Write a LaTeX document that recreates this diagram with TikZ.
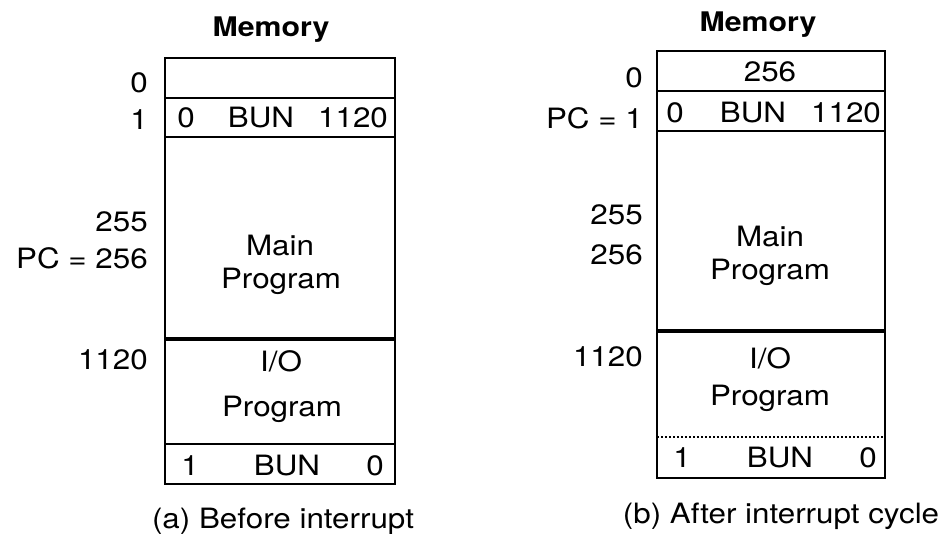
\documentclass[tikz,border=0pt]{standalone}
\usepackage{fontspec}
\setmainfont[FakeStretch=1.12]{TeX Gyre Heros}
\begin{document}
\begin{tikzpicture}[x=1pt,y=-1pt,
  txt/.style={inner sep=0pt,font=\fontsize{28}{32}\selectfont},
  lbl/.style={txt,anchor=east},
  ttl/.style={inner sep=0pt,font=\fontsize{27}{32}\selectfont\bfseries},
  box/.style={line width=2.2pt},
  thick divider/.style={line width=3.2pt},
  dotline/.style={line width=2.4pt,dash pattern=on 2pt off 2pt}]
\useasboundingbox (0,0) rectangle (940,533);
% ---------- (a) Before interrupt ----------
\node[ttl] (memA) at (271,30) {Memory};
\draw[box] (165,58) rectangle (395,484);
\draw[box] (165,98) -- (395,98);
\draw[box] (165,137) -- (395,137);
\draw[thick divider] (165,339) -- (395,339);
\draw[box] (165,444) -- (395,444);
\node[lbl] (a0) at (148,83) {0};
\node[lbl] (a1) at (148,120) {1};
\node[txt] (ac1) at (186,118) {0};
\node[txt] (ac2) at (261,118) {BUN};
\node[txt] (ac3) at (353,118) {1120};
\node[lbl] (a255) at (148,222) {255};
\node[lbl] (a256) at (148,258) {PC = 256};
\node[txt] (amain) at (280,245) {Main};
\node[txt] (aprog) at (281,281) {Program};
\node[lbl] (a1120) at (148,360) {1120};
\node[txt] (aio) at (281,361) {I/O};
\node[txt] (aiop) at (282,409) {Program};
\node[txt] (ab1) at (190,466) {1};
\node[txt] (ab2) at (287,466) {BUN};
\node[txt] (ab3) at (375,466) {0};
\node[txt] (capA) at (283,521) {(a) Before interrupt};
% ---------- (b) After interrupt cycle ----------
\node[ttl] (memB) at (758,25) {Memory};
\draw[box] (657,51) rectangle (885,478);
\draw[box] (657,91) -- (885,91);
\draw[box] (657,131) -- (885,131);
\draw[thick divider] (657,331) -- (885,331);
\draw[dotline] (657,437) -- (885,437);
\node[lbl] (b0) at (643,78) {0};
\node[lbl] (b1) at (643,118) {PC = 1};
\node[txt] (bc0) at (770,72) {256};
\node[txt] (bc1) at (675,113) {0};
\node[txt] (bc2) at (753,113) {BUN};
\node[txt] (bc3) at (846,113) {1120};
\node[lbl] (b255) at (643,215) {255};
\node[lbl] (b256) at (643,255) {256};
\node[txt] (bmain) at (770,237) {Main};
\node[txt] (bprog) at (770,272) {Program};
\node[lbl] (b1120) at (643,357) {1120};
\node[txt] (bio) at (770,358) {I/O};
\node[txt] (biop) at (770,398) {Program};
\node[txt] (bb1) at (682,458) {1};
\node[txt] (bb2) at (780,458) {BUN};
\node[txt] (bb3) at (868,458) {0};
\node[txt] (capB) at (781,516) {(b) After interrupt cycle};
\end{tikzpicture}
\end{document}
